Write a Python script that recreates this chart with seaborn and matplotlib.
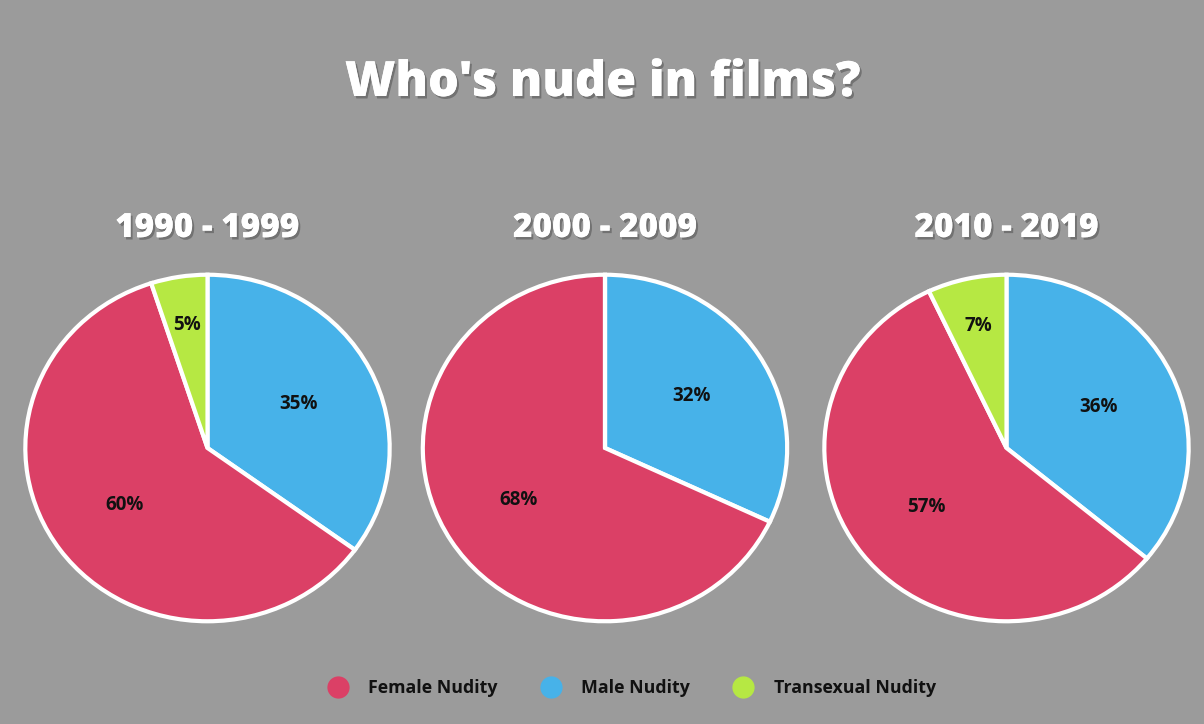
import matplotlib
matplotlib.use("Agg")
import matplotlib.pyplot as plt
import matplotlib.patheffects as pe
from matplotlib.lines import Line2D
import seaborn as sns

# data
decades = ["1990 - 1999", "2000 - 2009", "2010 - 2019"]
categories = ["Male Nudity", "Female Nudity", "Transexual Nudity"]
male = [35, 32, 36]
female = [60, 68, 57]
trans = [5, 0, 7]
legend_order = ["Female Nudity", "Male Nudity", "Transexual Nudity"]

sns.set_theme(style="white")
plt.rcParams["font.family"] = ["Open Sans", "DejaVu Sans"]

palette = dict(zip(categories, sns.color_palette(["#47B2E9", "#DB4066", "#B6E843"])))

bg = "#9B9B9B"
W, H = 1204, 724
fig = plt.figure(figsize=(W / 100, H / 100), dpi=100, facecolor=bg)

shadow = [pe.withSimplePatchShadow(offset=(1.5, -1.8), shadow_rgbFace="#4a4a4a", alpha=0.5), pe.Normal()]

centers = [207.5, 605, 1006.5]
rx, ry, cy = 184, 175, 448

for i, dec in enumerate(decades):
    cx = centers[i]
    ax = fig.add_axes([(cx - rx) / W, (H - cy - ry) / H, 2 * rx / W, 2 * ry / H])
    ax.set_facecolor(bg)
    vals = [male[i], female[i], trans[i]]
    wedges, texts, autotexts = ax.pie(
        vals,
        colors=[palette[c] for c in categories],
        startangle=90,
        counterclock=False,
        autopct=lambda p: f"{p:.0f}%" if p > 0.5 else "",
        pctdistance=0.56,
        wedgeprops=dict(edgecolor="white", linewidth=3),
        textprops=dict(fontsize=13.5, fontweight="bold", color="#111111"),
    )
    # small slices get their label pushed further out
    for v, t in zip(vals, autotexts):
        if 0 < v < 10:
            x, y = t.get_position()
            t.set_position((x / 0.56 * 0.72, y / 0.56 * 0.72))
    ax.set_aspect("auto")
    ax.set_xlim(-1.01, 1.01)
    ax.set_ylim(-1.01, 1.01)
    ax.axis("off")
    fig.text(cx / W, 1 - 228 / H, dec, ha="center", va="center", fontsize=24,
             fontweight="heavy", color="white", path_effects=shadow)

fig.text(603 / W, 1 - 83 / H, "Who's nude in films?", ha="center", va="center",
         fontsize=35, fontweight="heavy", color="white", path_effects=shadow)

handles = [Line2D([], [], marker="o", linestyle="", markersize=15,
                  markerfacecolor=palette[c], markeredgecolor=palette[c]) for c in legend_order]
leg = fig.legend(handles, legend_order, loc="center", bbox_to_anchor=(0.5215, 1 - 688 / H),
                 ncol=3, frameon=False, columnspacing=2.0, handletextpad=0.7,
                 prop=dict(size=12.8, weight="bold"))
for t in leg.get_texts():
    t.set_color("#111111")

fig.savefig("out.png", dpi=100, facecolor=bg)
